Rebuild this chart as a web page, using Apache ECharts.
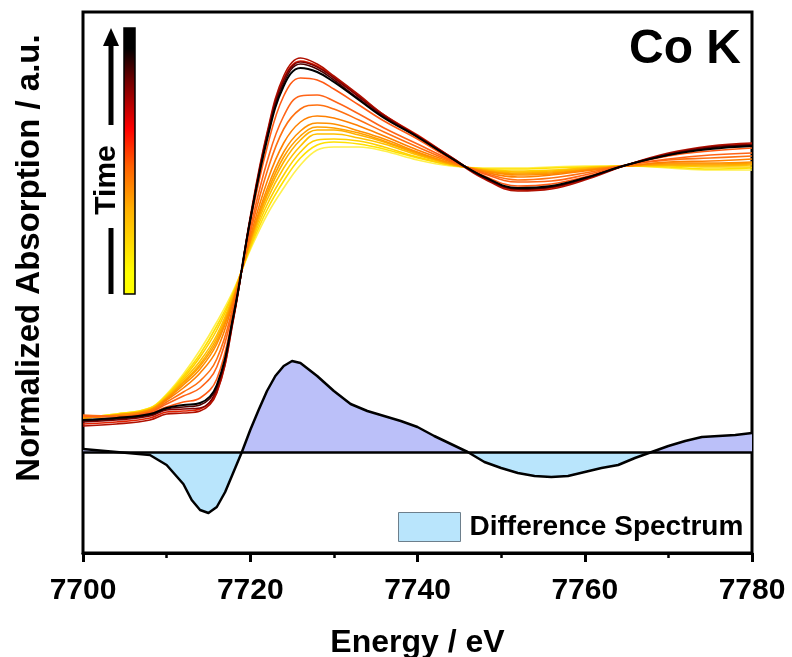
<!DOCTYPE html>
<html><head><meta charset="utf-8">
<script src="https://cdn.jsdelivr.net/npm/echarts@6/dist/echarts.min.js"></script>
<style>html,body{margin:0;padding:0;background:#fff}#c{width:792px;height:657px}</style>
</head><body><div id="c"></div>
<script>
// ---- data ----
const energy = [7700,7704,7708,7710,7712,7714,7716,7718,7720,7722,7724,7726,7728,7730,7733,7736,7740,7744,7748,7752,7756,7760,7765,7770,7775,7780];
const spec01 = [0.012,0.024,0.048,0.104,0.184,0.28,0.392,0.52,0.68,0.82,0.928,1.02,1.08,1.092,1.092,1.076,1.04,1.016,1.008,1.008,1.012,1.016,1.016,1.008,1.0,1.0];
const spec02 = [0.012,0.024,0.048,0.1,0.176,0.264,0.376,0.512,0.688,0.84,0.956,1.048,1.1,1.112,1.104,1.084,1.048,1.02,1.004,1.004,1.008,1.012,1.016,1.012,1.004,1.008];
const spec03 = [0.012,0.02,0.044,0.096,0.168,0.252,0.36,0.508,0.696,0.86,0.98,1.072,1.12,1.124,1.116,1.092,1.052,1.02,1.004,0.996,1.0,1.008,1.016,1.016,1.012,1.012];
const spec04 = [0.008,0.02,0.044,0.092,0.16,0.236,0.34,0.5,0.704,0.88,1.008,1.096,1.144,1.144,1.128,1.104,1.06,1.024,1.0,0.992,0.996,1.008,1.016,1.02,1.016,1.02];
const spec05 = [0.008,0.02,0.04,0.088,0.152,0.224,0.328,0.492,0.712,0.896,1.032,1.12,1.16,1.16,1.14,1.112,1.064,1.024,1.0,0.988,0.992,1.004,1.016,1.02,1.02,1.024];
const spec06 = [0.008,0.02,0.04,0.088,0.148,0.216,0.316,0.488,0.716,0.908,1.052,1.136,1.172,1.168,1.148,1.116,1.068,1.024,0.996,0.984,0.988,1.0,1.016,1.024,1.024,1.028];
const spec07 = [0.008,0.02,0.04,0.084,0.14,0.204,0.304,0.484,0.72,0.924,1.072,1.156,1.188,1.184,1.156,1.124,1.072,1.028,0.996,0.98,0.984,1.0,1.016,1.028,1.028,1.032];
const spec08 = [0.016,0.016,0.036,0.08,0.128,0.188,0.28,0.476,0.732,0.952,1.108,1.192,1.216,1.208,1.176,1.136,1.08,1.032,0.992,0.972,0.98,0.996,1.016,1.032,1.036,1.044];
const spec09 = [0.02,0.016,0.032,0.072,0.112,0.156,0.244,0.46,0.748,0.992,1.164,1.244,1.26,1.244,1.2,1.152,1.092,1.036,0.988,0.96,0.968,0.988,1.02,1.04,1.048,1.056];
const spec10 = [0.016,0.012,0.032,0.064,0.096,0.128,0.212,0.448,0.764,1.032,1.216,1.296,1.3,1.276,1.224,1.168,1.104,1.04,0.984,0.952,0.956,0.98,1.02,1.044,1.06,1.068];
const spec11 = [0,0.008,0.028,0.052,0.072,0.088,0.164,0.428,0.788,1.088,1.296,1.368,1.36,1.324,1.26,1.196,1.124,1.044,0.976,0.936,0.944,0.972,1.02,1.056,1.076,1.088];
const spec12 = [-0.016,-0.008,0.008,0.032,0.036,0.044,0.112,0.408,0.804,1.14,1.364,1.436,1.416,1.372,1.296,1.22,1.14,1.052,0.968,0.92,0.928,0.964,1.02,1.064,1.092,1.104];
const spec13 = [-0.024,-0.016,0,0.024,0.028,0.036,0.108,0.404,0.812,1.148,1.376,1.448,1.424,1.376,1.3,1.22,1.136,1.048,0.964,0.916,0.924,0.96,1.02,1.068,1.096,1.108];
const spec14 = [-0.008,0,0.016,0.04,0.044,0.048,0.124,0.412,0.804,1.136,1.36,1.432,1.412,1.368,1.292,1.216,1.136,1.052,0.968,0.924,0.932,0.964,1.02,1.064,1.092,1.1];
const spec15 = [-0.004,0.004,0.02,0.044,0.052,0.06,0.132,0.416,0.8,1.128,1.348,1.424,1.404,1.36,1.284,1.212,1.132,1.048,0.972,0.924,0.932,0.968,1.02,1.06,1.088,1.1];
const spec16 = [0,0.008,0.024,0.048,0.06,0.068,0.14,0.42,0.8,1.12,1.336,1.408,1.392,1.352,1.28,1.208,1.132,1.048,0.972,0.928,0.936,0.968,1.02,1.06,1.084,1.096];
const spectra = [spec01,spec02,spec03,spec04,spec05,spec06,spec07,spec08,spec09,spec10,spec11,spec12,spec13,spec14,spec15,spec16];
const spectraColors = ['#fff04a','#ffe000','#ffd000','#ffc000','#ffb000','#ffa000','#ff9000','#ff8000','#ff7010','#ff6418','#ff5a14','#e02000','#b01000','#800000','#4a0000','#000000'];

const diffEnergy = [7700,7704,7708,7710,7712,7713,7714,7715,7716,7717,7718,7719,7720,7721,7722,7723,7724,7725,7726,7728,7730,7732,7734,7736,7738,7740,7742,7744,7746,7748,7750,7752,7754,7756,7758,7760,7762,7764,7766,7768,7770,7772,7774,7776,7778,7780];
const diffValues = [0.012,0,-0.012,-0.052,-0.128,-0.192,-0.232,-0.244,-0.22,-0.16,-0.08,0,0.088,0.168,0.244,0.304,0.344,0.364,0.356,0.304,0.244,0.192,0.164,0.144,0.124,0.1,0.064,0.032,0,-0.04,-0.064,-0.084,-0.096,-0.1,-0.096,-0.08,-0.064,-0.052,-0.024,0,0.024,0.044,0.06,0.064,0.068,0.076];

const xMin = 7700, xMax = 7780, xStep = 20;
const legendName = 'Difference Spectrum';
const titleText = 'Co K';
const xTitle = 'Energy / eV';
const yTitle = 'Normalized Absorption / a.u.';
const timeLabel = 'Time';

// ---- chart ----
const FONT = '"Liberation Sans", Arial, Helvetica, sans-serif';
const chart = echarts.init(document.getElementById('c'), null, {renderer: 'canvas'});

const series = spectra.map((s, k) => ({
  type: 'line', name: 'spec' + (k + 1), xAxisIndex: 0, yAxisIndex: 0,
  data: energy.map((e, i) => [e, s[i]]),
  showSymbol: false, smooth: 0.4, silent: true,
  lineStyle: {color: spectraColors[k], width: k === spectra.length - 1 ? 2 : 1.6},
  itemStyle: {color: spectraColors[k]},
  z: 3 + k
}));

// positive and negative parts of the difference spectrum (filled to zero)
series.push({
  type: 'line', name: 'diffPositive', yAxisIndex: 1,
  data: diffEnergy.map((e, i) => [e, Math.max(diffValues[i], 0)]),
  showSymbol: false, smooth: false, silent: true,
  lineStyle: {width: 0, opacity: 0},
  areaStyle: {color: '#bbc0f9', opacity: 1},
  itemStyle: {color: '#bbc0f9'},
  z: 1
});
series.push({
  type: 'line', name: legendName, yAxisIndex: 1,
  data: diffEnergy.map((e, i) => [e, Math.min(diffValues[i], 0)]),
  showSymbol: false, smooth: false, silent: true,
  lineStyle: {width: 0, opacity: 0},
  areaStyle: {color: '#b9e5fc', opacity: 1},
  itemStyle: {color: '#b9e5fc'},
  z: 1
});
series.push({
  type: 'line', name: 'diffLine', yAxisIndex: 1,
  data: diffEnergy.map((e, i) => [e, diffValues[i]]),
  showSymbol: false, smooth: false, silent: true,
  lineStyle: {color: '#000', width: 2.5, join: 'round'},
  itemStyle: {color: '#000'},
  markLine: {silent: true, symbol: ['none', 'none'], label: {show: false},
    lineStyle: {color: '#000', width: 2.5, type: 'solid'},
    data: [{yAxis: 0}]},
  z: 2
});

chart.setOption({
  animation: false,
  backgroundColor: '#fff',
  grid: {left: 83, right: 40, top: 12, bottom: 104, show: true, borderColor: '#000', borderWidth: 3,
    containLabel: false, outerBoundsMode: 'none'},
  xAxis: {
    type: 'value', min: xMin, max: xMax, interval: xStep,
    axisLine: {show: true, onZero: false, lineStyle: {color: '#000', width: 3}},
    axisTick: {show: true, inside: false, length: 9, lineStyle: {color: '#000', width: 3}},
    minorTick: {show: true, splitNumber: 2, length: 5, lineStyle: {color: '#000', width: 2.5}},
    splitLine: {show: false},
    axisLabel: {color: '#000', fontSize: 30, fontWeight: 'bold', fontFamily: FONT, margin: 23,
      formatter: v => String(v)},
    name: xTitle, nameLocation: 'middle', nameGap: 74,
    nameTextStyle: {color: '#000', fontSize: 32, fontWeight: 'bold', fontFamily: FONT}
  },
  yAxis: [{
    type: 'value', min: -0.532, max: 1.632,
    axisLine: {show: false}, axisTick: {show: false}, axisLabel: {show: false}, splitLine: {show: false}
  }, {
    type: 'value', min: -0.404, max: 1.76, position: 'left',
    axisLine: {show: false}, axisTick: {show: false}, axisLabel: {show: false}, splitLine: {show: false}
  }],
  legend: {
    data: [{name: legendName, icon: 'rect', itemStyle: {color: '#b9e5fc', borderColor: '#6d7f8c', borderWidth: 1}}],
    left: 398, top: 512, padding: 0, itemWidth: 62, itemHeight: 29, selectedMode: false,
    textStyle: {color: '#000', fontSize: 28, fontWeight: 'bold', fontFamily: FONT, padding: [0, 0, 0, 4]}
  },
  graphic: [
    {type: 'rect', shape: {x: 124, y: 28, width: 11, height: 266}, z: 100,
     style: {fill: new echarts.graphic.LinearGradient(0, 0, 0, 1, [
       {offset: 0, color: '#000000'}, {offset: 0.08, color: '#000000'},
       {offset: 0.2, color: '#700000'}, {offset: 0.38, color: '#ff0000'},
       {offset: 0.52, color: '#ff6000'}, {offset: 0.68, color: '#ffb000'},
       {offset: 0.92, color: '#ffff00'}, {offset: 1, color: '#ffff00'}]),
       stroke: '#000', lineWidth: 1.5}},
    {type: 'line', shape: {x1: 111, y1: 294, x2: 111, y2: 228}, z: 100, style: {stroke: '#000', lineWidth: 5}},
    {type: 'line', shape: {x1: 111, y1: 125, x2: 111, y2: 42}, z: 100, style: {stroke: '#000', lineWidth: 5}},
    {type: 'polygon', shape: {points: [[111, 28], [103, 46], [119, 46]]}, z: 100, style: {fill: '#000'}},
    {type: 'text', x: 107, y: 180, rotation: Math.PI / 2, z: 100,
     style: {text: timeLabel, font: 'bold 30px ' + FONT, fill: '#000', align: 'center', verticalAlign: 'middle'}},
    {type: 'text', x: 741, y: 50, z: 100,
     style: {text: titleText, font: 'bold 48px ' + FONT, fill: '#000', align: 'right', verticalAlign: 'middle'}},
    {type: 'text', x: 30, y: 258, rotation: Math.PI / 2, z: 100,
     style: {text: yTitle, font: 'bold 33px ' + FONT, fill: '#000', align: 'center', verticalAlign: 'middle'}}
  ],
  series: series
});
</script></body></html>
